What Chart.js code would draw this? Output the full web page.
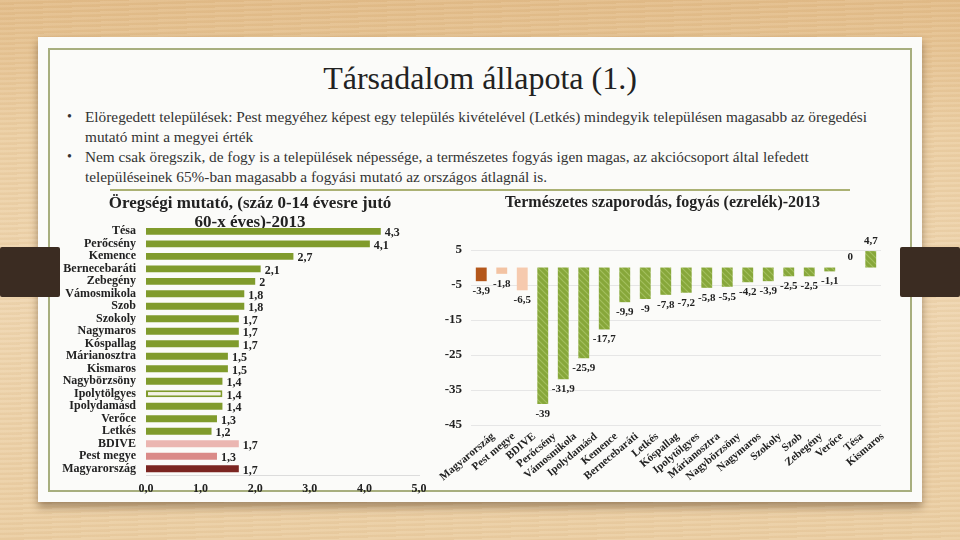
<!DOCTYPE html>
<html><head><meta charset="utf-8">
<script src="https://cdn.jsdelivr.net/npm/chart.js@4.4.0/dist/chart.umd.min.js"></script>
<style>
html,body{margin:0;padding:0;}
body{width:960px;height:540px;position:relative;overflow:hidden;font-family:'Liberation Serif',serif;
 background:
  repeating-linear-gradient(178deg, rgba(255,255,255,0.06) 0px, rgba(255,255,255,0.06) 2px, rgba(160,110,50,0.05) 3px, rgba(160,110,50,0.05) 5px),
  linear-gradient(180deg,#e3bd8a 0%,#eccfa4 25%,#efd6b0 55%,#ebcea3 100%);}
#panel{position:absolute;left:38px;top:37px;width:884px;height:465px;background:#fbfbf9;box-shadow:0 5px 8px rgba(70,45,20,0.45);}
#frame{position:absolute;left:48px;top:48px;width:864px;height:444px;border:2px solid #a7ae7e;box-sizing:border-box;}
.tab{position:absolute;top:247px;height:50px;width:60px;background:#3b2c22;border-radius:2px;}
#title{position:absolute;left:0;width:960px;top:58px;text-align:center;font-size:32px;color:#222;line-height:40px;}
.bl{position:absolute;left:85px;font-size:15.3px;color:#333;line-height:20px;white-space:nowrap;}
.dot{position:absolute;left:67px;font-size:14px;color:#333;line-height:20px;}
#sep{position:absolute;left:110px;top:189px;width:740px;height:2px;background:#abb174;}
canvas{position:absolute;}
</style></head>
<body>
<div id="panel"></div>
<div id="frame"></div>
<div id="title">Társadalom állapota (1.)</div>
<div class="dot" style="top:107px">•</div>
<div class="bl" style="top:107px">Elöregedett települések: Pest megyéhez képest egy település kivételével (Letkés) mindegyik településen magasabb az öregedési</div>
<div class="bl" style="top:127px">mutató mint a megyei érték</div>
<div class="dot" style="top:147px">•</div>
<div class="bl" style="top:147px">Nem csak öregszik, de fogy is a települések népessége, a természetes fogyás igen magas, az akciócsoport által lefedett</div>
<div class="bl" style="top:167px">településeinek 65%-ban magasabb a fogyási mutató az országos átlagnál is.</div>
<div id="sep"></div>
<div class="tab" style="left:0"></div>
<div class="tab" style="left:900px"></div>
<canvas id="c1" width="380" height="308" style="left:60px;top:192px;width:380px;height:308px"></canvas>
<canvas id="c2" width="485" height="308" style="left:420px;top:192px;width:485px;height:308px"></canvas>
<script>
// ---- Data ----
const ageTitle = ['Öregségi mutató, (száz 0-14 évesre jutó', '60-x éves)-2013'];
const ageCategories = ['Tésa','Perőcsény','Kemence','Bernecebaráti','Zebegény','Vámosmikola','Szob','Szokoly','Nagymaros','Kóspallag','Márianosztra','Kismaros','Nagybörzsöny','Ipolytölgyes','Ipolydamásd','Verőce','Letkés','BDIVE','Pest megye','Magyarország'];
const ageValues = [4.3,4.1,2.7,2.1,2,1.8,1.8,1.7,1.7,1.7,1.5,1.5,1.4,1.4,1.4,1.3,1.2,1.7,1.3,1.7];
const ageTicks = [0,1,2,3,4,5];

const growthTitle = 'Természetes szaporodás, fogyás (ezrelék)-2013';
const growthCategories = ['Magyarország','Pest megye','BDIVE','Perőcsény','Vámosmikola','Ipolydamásd','Kemence','Bernecebaráti','Letkés','Kóspallag','Ipolytölgyes','Márianosztra','Nagybörzsöny','Nagymaros','Szokoly','Szob','Zebegény','Verőce','Tésa','Kismaros'];
const growthValues = [-3.9,-1.8,-6.5,-39,-31.9,-25.9,-17.7,-9.9,-9,-7.8,-7.2,-5.8,-5.5,-4.2,-3.9,-2.5,-2.5,-1.1,0,4.7];
const growthTicks = [5,-5,-15,-25,-35,-45];

// ---- Styling ----
Chart.defaults.font.family = "'Liberation Serif', serif";
Chart.defaults.color = '#222';
const fmt = v => String(v).replace('.', ',');

const GREEN = '#809b2c';
const ageColors = ageCategories.map(c => c==='BDIVE' ? '#ebb6b1' : c==='Pest megye' ? '#da8a88' : c==='Magyarország' ? '#7b2521' : (c==='Ipolytölgyes' ? '#f4f2e6' : GREEN));
const ageBorders = ageCategories.map(c => c==='Ipolytölgyes' ? GREEN : 'rgba(0,0,0,0)');
const ageBorderW = ageCategories.map(c => c==='Ipolytölgyes' ? 2 : 0);

function hatch(){
  const p = document.createElement('canvas'); p.width = 6; p.height = 6;
  const g = p.getContext('2d');
  g.fillStyle = '#87a73a'; g.fillRect(0,0,6,6);
  g.strokeStyle = '#a3bf5e'; g.lineWidth = 1.2;
  g.beginPath(); g.moveTo(0,0); g.lineTo(6,6); g.moveTo(-3,3); g.lineTo(3,9); g.moveTo(3,-3); g.lineTo(9,3); g.stroke();
  return document.getElementById('c2').getContext('2d').createPattern(p,'repeat');
}
const hp = hatch();
const growthColors = growthCategories.map(c => c==='Magyarország' ? '#b4571b' : c==='Pest megye' ? '#f3c3a3' : c==='BDIVE' ? '#f6caae' : hp);

const barLabels = {
  id: 'barLabels',
  afterDatasetsDraw(chart, args, o){
    const ctx = chart.ctx, meta = chart.getDatasetMeta(0), data = chart.data.datasets[0].data;
    ctx.save(); ctx.font = o.font; ctx.fillStyle = '#222'; ctx.textBaseline = 'middle';
    meta.data.forEach((el, i) => {
      const v = data[i], t = fmt(v);
      if (o.horizontal) { ctx.textAlign = 'left'; ctx.fillText(t, el.x + o.dx, el.y + o.dy); }
      else { ctx.textAlign = 'center'; ctx.fillText(t, el.x, v < 0 ? el.y + o.dy : el.y - o.dy); }
    });
    ctx.restore();
  }
};

// invisible right-hand spacer scale (keeps the title centred over the full box)
const spacer = w => ({ type: 'linear', position: 'right', display: true, grid: { display: false, drawTicks: false }, border: { display: false }, ticks: { display: false },
  afterFit: s => { s.width = w; s.paddingTop = 0; s.paddingBottom = 0; } });

new Chart(document.getElementById('c1'), {
  type: 'bar',
  data: { labels: ageCategories, datasets: [{ data: ageValues, backgroundColor: ageColors, borderColor: ageBorders, borderWidth: ageBorderW, borderSkipped: false, categoryPercentage: 1, barPercentage: 0.55 }] },
  options: {
    indexAxis: 'y', responsive: false, animation: false,
    layout: { padding: 0 },
    plugins: {
      legend: { display: false }, tooltip: { enabled: false },
      title: { display: true, text: ageTitle, color: '#222', font: { size: 17, weight: 'bold', lineHeight: 1.12 }, padding: { top: 2.5, bottom: -7.5 } },
      barLabels: { horizontal: true, dx: 4, dy: 2, font: "bold 12px 'Liberation Serif'" }
    },
    scales: {
      x: { min: 0, max: 5, afterBuildTicks: s => { s.ticks = ageTicks.map(v => ({ value: v })); },
           afterFit: s => { s.height = 25; s.paddingLeft = 0; s.paddingRight = 0; },
           grid: { display: false, drawTicks: false }, border: { display: true, color: '#dcdcdc', width: 1 },
           ticks: { padding: 7, font: { size: 12, weight: 'bold' }, color: '#222', callback: v => Number(v).toFixed(1).replace('.', ',') } },
      y: { afterFit: s => { s.width = 86; s.paddingTop = 0; s.paddingBottom = 0; },
           grid: { display: false, drawTicks: false }, border: { display: false },
           ticks: { padding: 10, autoSkip: false, font: { size: 12, weight: 'bold' }, color: '#222' } },
      pad: spacer(21)
    }
  },
  plugins: [barLabels]
});

new Chart(document.getElementById('c2'), {
  type: 'bar',
  data: { labels: growthCategories, datasets: [{ data: growthValues, backgroundColor: growthColors, categoryPercentage: 1, barPercentage: 0.53 }] },
  options: {
    responsive: false, animation: false,
    layout: { padding: 0 },
    plugins: {
      legend: { display: false }, tooltip: { enabled: false },
      title: { display: true, text: growthTitle, color: '#222', font: { size: 16, weight: 'bold', lineHeight: 1.19 }, padding: { top: 1.5, bottom: 37.5 } },
      barLabels: { horizontal: false, dy: 10, font: "bold 11px 'Liberation Serif'" }
    },
    scales: {
      y: { min: -45, max: 5, afterBuildTicks: s => { s.ticks = growthTicks.map(v => ({ value: v })); },
           afterFit: s => { s.width = 51; s.paddingTop = 0; s.paddingBottom = 0; },
           grid: { color: '#e6e6e6', drawTicks: false }, border: { display: false },
           ticks: { padding: 9, font: { size: 13, weight: 'bold' }, color: '#222' } },
      x: { afterFit: s => { s.height = 75; s.paddingLeft = 0; s.paddingRight = 0; },
           grid: { display: false, drawTicks: false }, border: { display: false },
           ticks: { autoSkip: false, minRotation: 40, maxRotation: 40, padding: 5, labelOffset: 12, font: { size: 11, weight: 'bold' }, color: '#222' } },
      pad: spacer(24)
    }
  },
  plugins: [barLabels]
});
</script>
</body></html>
